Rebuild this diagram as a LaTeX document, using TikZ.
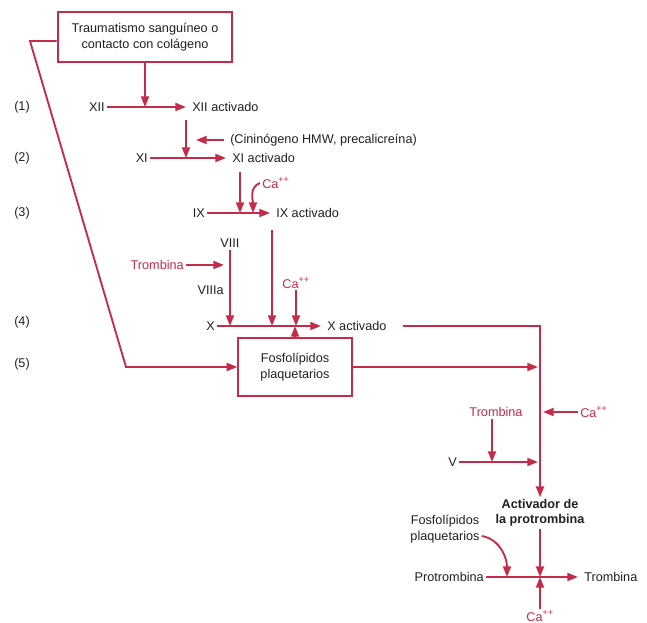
\documentclass[tikz,border=0pt]{standalone}
\usepackage{fontspec}
\setmainfont{Liberation Sans}
\usetikzlibrary{arrows.meta}
\definecolor{cr}{RGB}{196,44,74}
\definecolor{tx}{RGB}{35,32,34}
\begin{document}
\begin{tikzpicture}[x=0.75pt,y=-0.75pt,
  ln/.style={draw=cr,line width=1.4pt},
  arr/.style={ln,-{Triangle[length=8pt,width=6pt]}},
  harr/.style={arr,shorten >=3pt},
  lbl/.style={font=\fontsize{9.5}{11.5}\selectfont,inner sep=1.5pt,text=tx},
  rlbl/.style={lbl,text=cr},
  box/.style={draw=cr,line width=1.4pt,align=center,lbl,inner sep=2pt}]
\useasboundingbox[fill=white] (0,0) rectangle (647,623);

% left numbers
\node[lbl] (n1) at (22,107) {(1)};
\node[lbl] (n2) at (22,158) {(2)};
\node[lbl] (n3) at (22,213) {(3)};
\node[lbl] (n4) at (22,322) {(4)};
\node[lbl] (n5) at (22,364) {(5)};

% top box
\node[box,minimum width=131pt,minimum height=37pt] (trau) at (145,37) {Traumatismo sanguíneo o\\contacto con colágeno};

% XII
\node[lbl,anchor=east] (XII) at (107,107) {XII};
\node[lbl,anchor=west] (XIIa) at (190,107) {XII activado};
\draw[harr] (XII) -- (XIIa);
\draw[arr] (trau.south) -- (trau.south |- XII);

% XI
\node[lbl,anchor=east] (XI) at (150,158) {XI};
\node[lbl,anchor=west] (XIa) at (230,158) {XI activado};
\draw[harr] (XI) -- (XIa);
\coordinate (d1) at (186,120);
\draw[arr] (d1) -- (d1 |- XI);
\node[lbl,anchor=west] (cin) at (228,140) {(Cininógeno HMW, precalicreína)};
\coordinate (d2) at (196,140);
\draw[arr,shorten <=3pt] (cin) -- (d2);

% IX
\node[lbl,anchor=east] (IX) at (207,213) {IX};
\node[lbl,anchor=west] (IXa) at (274,213) {IX activado};
\draw[harr] (IX) -- (IXa);
\coordinate (d3) at (240,172);
\draw[arr] (d3) -- (d3 |- IX);
\node[rlbl,anchor=west] (ca1) at (260,183) {Ca\textsuperscript{++}};
\coordinate (d4) at (253,213);
\draw[arr] (ca1.west) to[out=200,in=90] (d4);

% VIII / X
\node[lbl] (VIII) at (230,243) {VIII};
\node[rlbl,anchor=east] (tr1) at (186,265) {Trombina};
\coordinate (d5) at (224,265);
\draw[arr] (tr1) -- (d5);
\node[lbl,anchor=east] (VIIIa) at (226,290) {VIIIa};
\node[lbl,anchor=east] (X) at (217,326) {X};
\node[lbl,anchor=west] (Xa) at (325,326) {X activado};
\draw[harr] (X) -- (Xa);
\draw[arr] (VIII) -- (VIII |- X);
\coordinate (d6) at (272,230);
\draw[arr] (d6) -- (d6 |- X);
\node[rlbl] (ca2) at (296,283) {Ca\textsuperscript{++}};
\draw[arr] (ca2) -- (ca2 |- X);

% Fosfolipidos box
\node[box,minimum width=85pt,minimum height=43pt] (fos) at (295,367) {Fosfolípidos\\plaquetarios};
\draw[arr] (fos.north) -- (fos.north |- X);

% left line
\coordinate (c1) at (30,41);
\coordinate (c2) at (126,367);
\draw[arr] (trau.west |- c1) -- (c1) -- (c2) -- (fos.west);

% right part
\node[lbl,font=\fontsize{9.5}{11.5}\selectfont\bfseries,align=center] (act) at (540,513) {Activador de\\la protrombina};
\draw[arr,shorten <=11pt] (Xa.east) -- (Xa.east -| act) -- (act.north);
\coordinate (k2) at (538,367);
\draw[arr] (fos.east) -- (k2);
\node[rlbl] (tr2) at (496,412) {Trombina};
\node[rlbl,anchor=west] (ca3) at (578,412) {Ca\textsuperscript{++}};
\coordinate (k3) at (543,412);
\draw[arr] (ca3) -- (k3);
\node[lbl,anchor=east] (V) at (459,462) {V};
\coordinate (k4) at (538,462);
\draw[arr] (V) -- (k4);
\draw[arr] (tr2.south -| 492,0) -- (492,462);

% bottom
\node[lbl,anchor=east] (pro) at (486,577) {Protrombina};
\node[lbl,anchor=west] (trb) at (582,577) {Trombina};
\draw[harr] (pro) -- (trb);
\draw[arr] (act.south) -- (act.south |- pro);
\node[rlbl] (ca4) at (540,616) {Ca\textsuperscript{++}};
\draw[arr] (ca4) -- (ca4 |- pro);
\node[lbl,align=center] (fp) at (445,529) {Fosfolípidos\\plaquetarios};
\coordinate (k5) at (507,577);
\draw[arr] (fp.east |- 0,536) to[out=-10,in=90] (k5);
\end{tikzpicture}
\end{document}
